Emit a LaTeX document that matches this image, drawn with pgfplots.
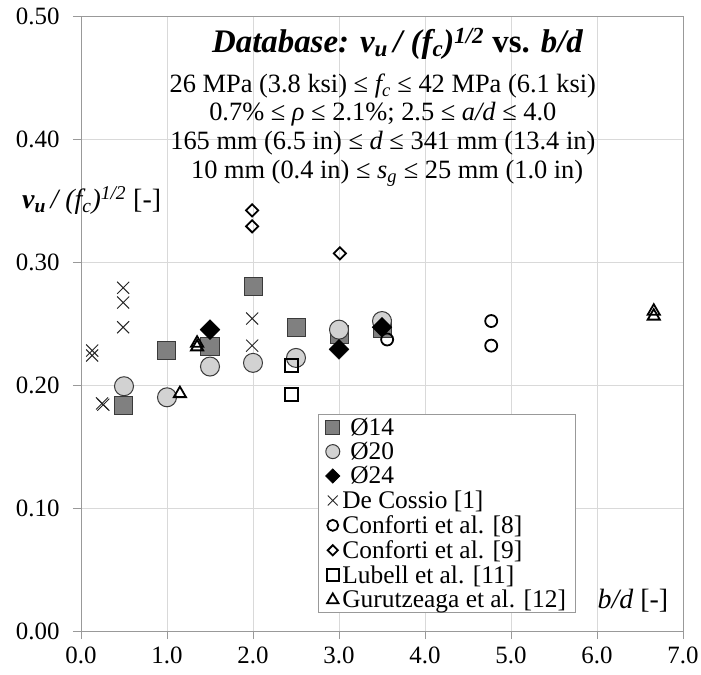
\documentclass[border=0pt]{standalone}
\usepackage{pgfplots}
\pgfplotsset{compat=1.18}
\usepackage{fontspec}
\setmainfont{Liberation Serif}
\definecolor{sq14}{HTML}{808080}
\definecolor{ci20}{HTML}{D2D2D2}
\definecolor{edge}{HTML}{3A3A3A}
\begin{document}
\begin{tikzpicture}
\begin{axis}[
  scale only axis, width=602bp, height=615bp,
  xmin=0, xmax=7, ymin=0, ymax=0.5,
  xtick={0,1,2,3,4,5,6,7},
  xticklabels={0.0,1.0,2.0,3.0,4.0,5.0,6.0,7.0},
  ytick={0,0.1,0.2,0.3,0.4,0.5},
  yticklabels={0.00,0.10,0.20,0.30,0.40,0.50},
  tick pos=left, tick align=outside, major tick length=8bp,
  tick style={gray!80, line width=0.8bp},
  axis line style={gray!80, line width=0.9bp},
  grid=major, major grid style={gray!30, line width=0.8bp},
  ticklabel style={font=\fontsize{25}{25}\selectfont},
  yticklabel style={xshift=-10bp},
  xticklabel style={yshift=-4bp},
  clip=false,
  legend style={at={(0.822,0.029)}, anchor=south east, draw=gray!80, line width=0.8bp,
    font=\fontsize{25.5}{25.5}\selectfont, inner xsep=7bp, inner ysep=3bp, row sep=5bp,
    nodes={inner xsep=2.5bp, inner ysep=0.3bp}},
  legend image post style={xshift=-5bp},
  legend cell align=left,
]
\coordinate (sw) at (rel axis cs:0,0);
\coordinate (ne) at (rel axis cs:1,1);
% O14
\addplot[forget plot, only marks, mark=square*, mark size=9bp, mark options={fill=sq14, draw=edge, line width=1bp}]
coordinates {(0.5,0.183) (1.0,0.228) (1.5,0.231) (2.0,0.280) (2.5,0.247) (3.0,0.241) (3.5,0.246)};
% O20
\addplot[forget plot, only marks, mark=*, mark size=9.5bp, mark options={fill=ci20, draw=edge, line width=1bp}]
coordinates {(0.5,0.199) (1.0,0.190) (1.5,0.215) (2.0,0.218) (2.5,0.222) (3.0,0.245) (3.5,0.252)};
% O24
\addplot[forget plot, only marks, mark=square*, mark size=7bp, mark options={rotate=45, fill=black, draw=black}]
coordinates {(1.5,0.245) (3.0,0.229) (3.5,0.247)};
% De Cossio
\addplot[forget plot, only marks, mark=x, mark size=8.5bp, mark options={draw=black!85, line width=1bp}]
coordinates {(0.13,0.228) (0.13,0.224) (0.245,0.185) (0.26,0.184) (0.49,0.279) (0.49,0.267) (0.49,0.247) (1.99,0.254) (1.99,0.232)};
% Conforti 8
\addplot[forget plot, only marks, mark=o, mark size=6bp, mark options={draw=black, line width=1.8bp}]
coordinates {(3.56,0.237) (4.77,0.252) (4.77,0.232)};
% Conforti 9
\addplot[forget plot, only marks, mark=square, mark size=4.3bp, mark options={rotate=45, draw=black, line width=1.8bp}]
coordinates {(1.99,0.342) (1.99,0.329) (3.01,0.307)};
% Lubell
\addplot[forget plot, only marks, mark=square, mark size=6.5bp, mark options={draw=black, line width=1.8bp}]
coordinates {(2.45,0.216) (2.45,0.192)};
% Gurutzeaga
\addplot[forget plot, only marks, mark=triangle, mark size=7bp, mark options={draw=black, line width=1.8bp}]
coordinates {(1.15,0.193) (1.35,0.231) (1.35,0.234) (6.66,0.260) (6.66,0.256)};
% legend images
\addlegendimage{only marks, mark=square*, mark size=7bp, mark options={fill=sq14, draw=edge, line width=1bp}}
\addlegendentry{\hspace{8bp}Ø14}
\addlegendimage{only marks, mark=*, mark size=7bp, mark options={fill=ci20, draw=edge, line width=1bp}}
\addlegendentry{\hspace{8bp}Ø20}
\addlegendimage{only marks, mark=square*, mark size=5bp, mark options={rotate=45, fill=black, draw=black}}
\addlegendentry{\hspace{8bp}Ø24}
\addlegendimage{only marks, mark=x, mark size=7bp, mark options={draw=black!85, line width=1bp}}
\addlegendentry{De Cossio [1]}
\addlegendimage{only marks, mark=o, mark size=5.5bp, mark options={draw=black, line width=1.8bp}}
\addlegendentry{Conforti et al. [8]}
\addlegendimage{only marks, mark=square, mark size=3.6bp, mark options={rotate=45, draw=black, line width=1.8bp}}
\addlegendentry{Conforti et al. [9]}
\addlegendimage{only marks, mark=square, mark size=6bp, mark options={draw=black, line width=1.8bp}}
\addlegendentry{Lubell et al. [11]}
\addlegendimage{only marks, mark=triangle, mark size=6.5bp, mark options={draw=black, line width=1.8bp}}
\addlegendentry{Gurutzeaga et al. [12]}
% Title and subtitles
\node[font=\fontsize{33}{33}\selectfont\bfseries\itshape] at (axis cs:3.68,0.477)
  {Database: v\textsubscript{u}\,/ (f\textsubscript{c})\textsuperscript{1/2} \textup{vs.} b/d};
\node[font=\fontsize{26.5}{26.5}\selectfont] at (axis cs:3.51,0.443)
  {26 MPa (3.8 ksi) ≤ \textit{f\textsubscript{c}} ≤ 42 MPa (6.1 ksi)};
\node[font=\fontsize{26.5}{26.5}\selectfont] at (axis cs:3.51,0.420)
  {0.7\% ≤ \textit{ρ} ≤ 2.1\%; 2.5 ≤ \textit{a/d} ≤ 4.0};
\node[font=\fontsize{26.5}{26.5}\selectfont] at (axis cs:3.51,0.397)
  {165 mm (6.5 in) ≤ \textit{d} ≤ 341 mm (13.4 in)};
\node[font=\fontsize{26.5}{26.5}\selectfont] at (axis cs:3.56,0.372)
  {10 mm (0.4 in) ≤ \textit{s\textsubscript{g}} ≤ 25 mm (1.0 in)};
% axis labels
\node[anchor=west, font=\fontsize{28}{28}\selectfont, inner sep=0pt] at (axis cs:-0.686,0.350)
  {\textbf{\textit{v\textsubscript{u}}}\textit{\,/ (f\textsubscript{c})\textsuperscript{1/2}} [-]};
\node[anchor=east, font=\fontsize{28}{28}\selectfont, inner sep=0pt] at (axis cs:6.83,0.025)
  {\textit{b/d} [-]};
\end{axis}
\pgfresetboundingbox
\path[use as bounding box] ([shift={(-81bp,-44bp)}]sw) rectangle ([shift={(18bp,16bp)}]ne);
\end{tikzpicture}
\end{document}
